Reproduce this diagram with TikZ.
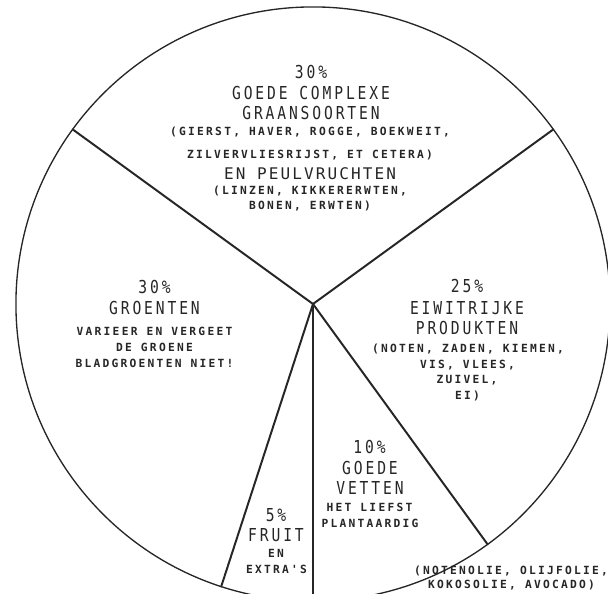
\documentclass[tikz,border=0pt]{standalone}
\usepackage{fontspec}
\newfontfamily\bigface[FakeStretch=0.82,LetterSpace=16]{DejaVu Sans Mono}
\newfontfamily\midface[LetterSpace=13]{DejaVu Sans Mono}
\newfontfamily\smallface[LetterSpace=20]{DejaVu Sans Mono}
\definecolor{ink}{gray}{0.15}

\begin{document}
\begin{tikzpicture}[x=0.025cm,y=-0.025cm]
\tikzstyle{every node}+=[inner sep=0pt,anchor=base,text=ink]
\tikzstyle{bigtxt}=[font=\bigface\fontsize{12.7}{14}\selectfont]
\tikzstyle{midtxt}=[font=\midface\fontsize{11.4}{13}\selectfont]
\tikzstyle{smalltxt}=[font=\smallface\bfseries\fontsize{8}{9}\selectfont]
\tikzstyle{rim}=[draw=ink,line width=0.95pt]
\tikzstyle{spoke}=[draw=ink,line width=1.4pt,line cap=round]
\useasboundingbox (0,0) rectangle (608,594);
\clip (0,0) rectangle (608,594);
\coordinate (O) at (313,304);
\foreach \a in {36,144,252,270,306}
  \coordinate (p\a) at ([shift={(\a:7.425cm)}]O);
\draw [rim] (O) circle (7.425cm);
\foreach \a in {36,144,252,270,306}
  \draw [spoke] (O) -- (p\a);
% granen
\node [bigtxt] (top30) at (311,78.2) {30\%};
\node [bigtxt] (topgoede) at (311,99.2) {GOEDE COMPLEXE};
\node [bigtxt] (topgraan) at (311,119.2) {GRAANSOORTEN};
\node [smalltxt] (gierst) at (310,135.6) {(GIERST, HAVER, ROGGE, BOEKWEIT,};
\node [smalltxt] (zilver) at (310,158.2) {ZILVERVLIESRIJST, ET CETERA)};
\node [midtxt] (peulv) at (310,179.9) {EN PEULVRUCHTEN};
\node [smalltxt] (linzen) at (310,194.4) {(LINZEN, KIKKERERWTEN,};
\node [smalltxt] (bonen) at (310,209.7) {BONEN, ERWTEN)};
% groenten
\node [bigtxt] (left30) at (154.5,293.2) {30\%};
\node [bigtxt] (groenten) at (154.5,314.8) {GROENTEN};
\node [smalltxt] (varieer) at (154.5,335.7) {VARIEER EN VERGEET};
\node [smalltxt] (degroene) at (154.5,351.7) {DE GROENE};
\node [smalltxt] (blad) at (154.5,367.2) {BLADGROENTEN NIET!};
% eiwit
\node [bigtxt] (right25) at (467,292.5) {25\%};
\node [bigtxt] (eiwit) at (467,314.8) {EIWITRIJKE};
\node [bigtxt] (produkt) at (467,334.8) {PRODUKTEN};
\node [smalltxt] (noten) at (468,352.2) {(NOTEN, ZADEN, KIEMEN,};
\node [smalltxt] (vis) at (467.5,368.2) {VIS, VLEES,};
\node [smalltxt] (zuivel) at (467,383.9) {ZUIVEL,};
\node [smalltxt] (ei) at (467.5,399.7) {EI)};
% vetten
\node [bigtxt] (vet10) at (369.5,453.2) {10\%};
\node [bigtxt] (vetgoede) at (370,474.8) {GOEDE};
\node [bigtxt] (vetten) at (370,494.8) {VETTEN};
\node [smalltxt] (liefst) at (369.5,511.2) {HET LIEFST};
\node [smalltxt] (plant) at (370,527.2) {PLANTAARDIG};
\node [smalltxt] (olie1) at (511,574.7) {(NOTENOLIE, OLIJFOLIE,};
\node [smalltxt] (olie2) at (511.5,588.2) {KOKOSOLIE, AVOCADO)};
% fruit
\node [bigtxt] (fruit5) at (276,521.5) {5\%};
\node [bigtxt] (fruit) at (276,541.5) {FRUIT};
\node [smalltxt] (fen) at (276,557.9) {EN};
\node [smalltxt] (extra) at (276.5,573.9) {EXTRA'S};
\end{tikzpicture}
\end{document}
